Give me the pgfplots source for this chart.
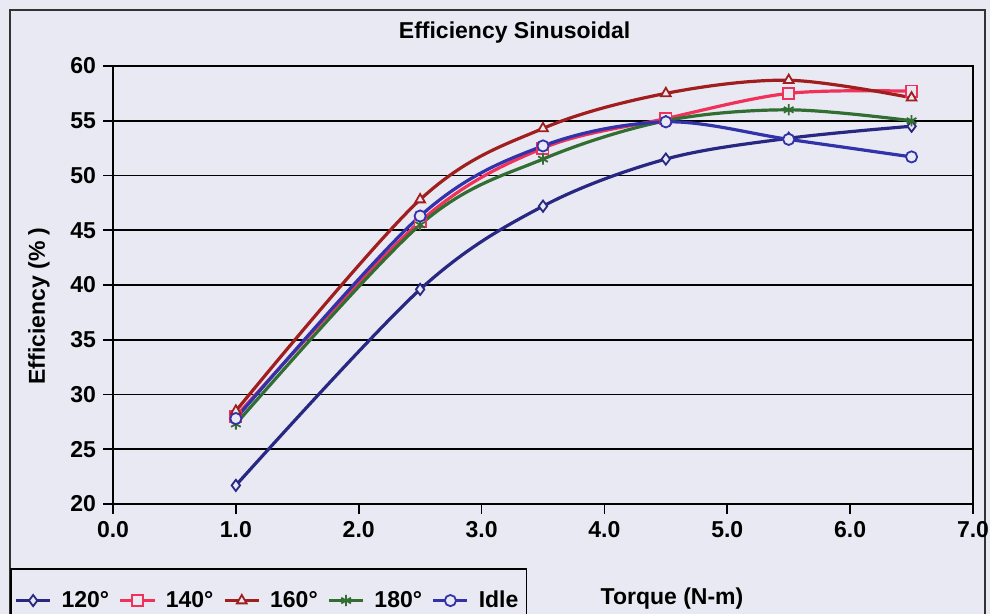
\documentclass[border=0pt]{standalone}
\usepackage{pgfplots}
\pgfplotsset{compat=1.18}
\usepackage{fontspec}
\setmainfont{Liberation Sans}
\definecolor{bg}{RGB}{233,233,243}
\definecolor{c120}{RGB}{40,40,130}
\definecolor{c140}{RGB}{240,50,90}
\definecolor{c160}{RGB}{160,30,30}
\definecolor{c180}{RGB}{50,110,50}
\definecolor{cidle}{RGB}{50,50,170}
\begin{document}
\begin{tikzpicture}
\fill[bg] (0pt,0pt) rectangle (495pt,-307pt);
\draw[black!80, line width=0.8pt] (5pt,-307pt) -- (5pt,-5pt) -- (492.5pt,-5pt) -- (492.5pt,-307pt);
\begin{axis}[
  at={(56.5pt,-252pt)}, anchor=south west,
  scale only axis, width=430pt, height=219pt,
  xmin=0, xmax=7, ymin=20, ymax=60,
  xtick={0,1,...,7}, ytick={20,25,...,60},
  /pgf/number format/assume math mode=true,
  xticklabel style={/pgf/number format/.cd, fixed, fixed zerofill, precision=1},
  ticklabel style={font=\fontsize{11.5}{13}\selectfont\bfseries},
  tick align=outside, xtick pos=bottom, ytick pos=left,
  major tick length=5pt,
  tick style={black, line width=0.8pt},
  ymajorgrids, grid style={black, line width=0.8pt},
  axis line style={black, line width=0.8pt},
  axis background/.style={fill=bg},
  title={Efficiency Sinusoidal},
  title style={font=\fontsize{11.5}{13}\selectfont\bfseries, at={(axis description cs:0.467,1.05)}, anchor=center},
  xlabel={Torque (N-m)},
  xlabel style={font=\fontsize{11.5}{13}\selectfont\bfseries, at={(axis description cs:0.65,-0.215)}, anchor=center},
  ylabel={Efficiency (\% )},
  ylabel style={font=\fontsize{11.5}{13}\selectfont\bfseries, at={(axis description cs:-0.086,0.452)}, anchor=center},
  legend columns=5,
  legend style={at={(axis description cs:-0.1198,-0.146)}, anchor=north west,
    draw=black, line width=0.8pt, fill=bg, font=\fontsize{11.5}{13}\selectfont\bfseries,
    inner xsep=2pt, inner ysep=9pt, column sep=3pt},
  legend image post style={line width=1.3pt},
  every axis plot/.append style={line width=1.6pt, smooth, tension=0.55, mark size=2.8pt, mark options={solid, fill=bg, line width=0.9pt}},
]
\addplot[c120, mark=diamond*] coordinates {(1,21.7) (2.5,39.6) (3.5,47.2) (4.5,51.5) (5.5,53.4) (6.5,54.5)};
\addlegendentry{120°}
\addplot[c140, mark=square*] coordinates {(1,28.0) (2.5,45.8) (3.5,52.5) (4.5,55.2) (5.5,57.5) (6.5,57.7)};
\addlegendentry{140°}
\addplot[c160, mark=triangle*] coordinates {(1,28.5) (2.5,47.8) (3.5,54.3) (4.5,57.5) (5.5,58.7) (6.5,57.1)};
\addlegendentry{160°}
\addplot[c180, mark=asterisk] coordinates {(1,27.3) (2.5,45.5) (3.5,51.5) (4.5,55.0) (5.5,56.0) (6.5,55.0)};
\addlegendentry{180°}
\addplot[cidle, mark=*] coordinates {(1,27.8) (2.5,46.3) (3.5,52.7) (4.5,54.9) (5.5,53.3) (6.5,51.7)};
\addlegendentry{Idle}
\end{axis}
\pgfresetboundingbox
\path[use as bounding box] (0pt,0pt) rectangle (495pt,-307pt);
\end{tikzpicture}
\end{document}
